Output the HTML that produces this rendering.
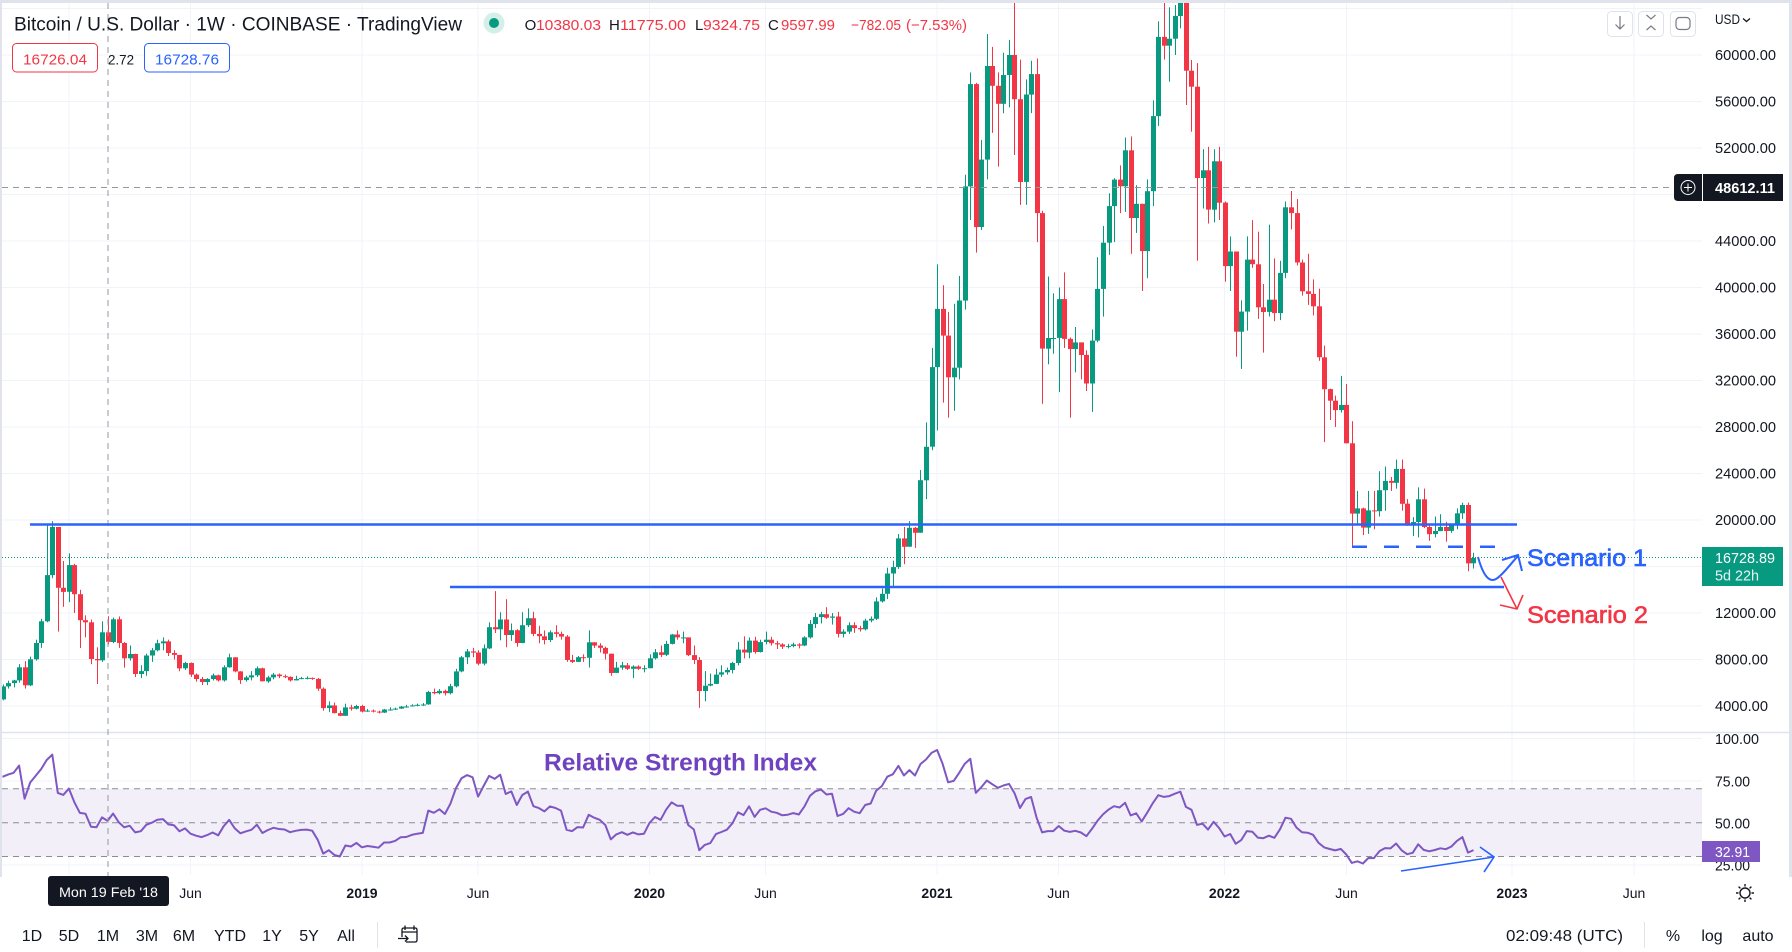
<!DOCTYPE html>
<html><head><meta charset="utf-8"><style>
html,body{margin:0;padding:0;background:#fff;overflow:hidden;}
svg{display:block;}
text{font-family:"Liberation Sans",sans-serif;}
</style></head><body>
<svg width="1792" height="952" viewBox="0 0 1792 952" xmlns="http://www.w3.org/2000/svg">
<defs>
<clipPath id="mc"><rect x="2" y="3" width="1700" height="729"/></clipPath>
<clipPath id="rc"><rect x="2" y="733" width="1700" height="142"/></clipPath>
</defs>
<rect width="1792" height="952" fill="#fff"/>
<!-- grid -->
<g stroke="#f0f3fa" stroke-width="1">
<line x1="2" x2="1702" y1="8.5" y2="8.5"/><line x1="2" x2="1702" y1="55" y2="55"/><line x1="2" x2="1702" y1="101.5" y2="101.5"/><line x1="2" x2="1702" y1="148" y2="148"/><line x1="2" x2="1702" y1="194.5" y2="194.5"/><line x1="2" x2="1702" y1="241" y2="241"/><line x1="2" x2="1702" y1="287.5" y2="287.5"/><line x1="2" x2="1702" y1="334" y2="334"/><line x1="2" x2="1702" y1="380.5" y2="380.5"/><line x1="2" x2="1702" y1="427" y2="427"/><line x1="2" x2="1702" y1="473.5" y2="473.5"/><line x1="2" x2="1702" y1="520" y2="520"/><line x1="2" x2="1702" y1="566.5" y2="566.5"/><line x1="2" x2="1702" y1="613" y2="613"/><line x1="2" x2="1702" y1="659.5" y2="659.5"/><line x1="2" x2="1702" y1="706" y2="706"/>
<line x1="2" x2="1702" y1="738.5" y2="738.5"/><line x1="2" x2="1702" y1="781" y2="781"/><line x1="2" x2="1702" y1="865" y2="865"/>
<line x1="69" x2="69" y1="3" y2="875"/><line x1="190.5" x2="190.5" y1="3" y2="875"/><line x1="362" x2="362" y1="3" y2="875"/><line x1="478" x2="478" y1="3" y2="875"/><line x1="649.5" x2="649.5" y1="3" y2="875"/><line x1="765.5" x2="765.5" y1="3" y2="875"/><line x1="937" x2="937" y1="3" y2="875"/><line x1="1058.5" x2="1058.5" y1="3" y2="875"/><line x1="1224.5" x2="1224.5" y1="3" y2="875"/><line x1="1346.5" x2="1346.5" y1="3" y2="875"/><line x1="1512" x2="1512" y1="3" y2="875"/><line x1="1634" x2="1634" y1="3" y2="875"/>
</g>
<!-- RSI band -->
<rect x="2" y="788.8" width="1700" height="67.7" fill="#f2eff9"/>
<g stroke="#8a8d96" stroke-width="1" stroke-dasharray="6 5">
<line x1="2" x2="1702" y1="788.8" y2="788.8"/><line x1="2" x2="1702" y1="822.7" y2="822.7"/><line x1="2" x2="1702" y1="856.5" y2="856.5"/>
</g>
<!-- pane separator -->
<line x1="0" x2="1792" y1="732.5" y2="732.5" stroke="#e0e3eb" stroke-width="1.5"/>
<!-- frame -->
<rect x="0" y="0" width="1792" height="3" fill="#e0e3eb"/>
<rect x="0" y="0" width="2" height="877" fill="#e0e3eb"/>
<rect x="1789" y="0" width="3" height="877" fill="#e0e3eb"/>

<!-- current price dotted -->
<line x1="2" x2="1702" y1="557.5" y2="557.5" stroke="#089981" stroke-width="1" stroke-dasharray="1 2"/>

<g id="candles" clip-path="url(#mc)"></g>
<g clip-path="url(#rc)"><polyline id="rsi" fill="none" stroke="#7e57c2" stroke-width="2" stroke-linejoin="round" points=""/></g>

<!-- crosshair -->
<line x1="2" x2="1674" y1="187.5" y2="187.5" stroke="#9598a1" stroke-width="1" stroke-dasharray="6 5"/>
<line x1="108" x2="108" y1="3" y2="876" stroke="#9598a1" stroke-width="1" stroke-dasharray="6 5"/>

<!-- drawings -->
<line x1="30" x2="1517" y1="524.5" y2="524.5" stroke="#2962ff" stroke-width="2.5"/>
<line x1="450" x2="1504" y1="587" y2="587" stroke="#2962ff" stroke-width="2.5"/>
<line x1="1352" x2="1498" y1="546.7" y2="546.7" stroke="#2962ff" stroke-width="2.5" stroke-dasharray="15 17"/>
<path d="M1478 557 C1483 575 1489 583 1496 579 S1512 562 1518 556" fill="none" stroke="#2962ff" stroke-width="2"/>
<path d="M1502 560 L1518 555 L1522 571" fill="none" stroke="#2962ff" stroke-width="2"/>
<path d="M1501 577 L1517 609" fill="none" stroke="#f23645" stroke-width="1.6"/>
<path d="M1500 605 L1517 609 L1523 595" fill="none" stroke="#f23645" stroke-width="1.6"/>
<text x="1527" y="566" font-size="24" fill="#2962ff" stroke="#2962ff" stroke-width="0.6" textLength="120" lengthAdjust="spacingAndGlyphs">Scenario 1</text>
<text x="1527" y="623" font-size="24" fill="#f23645" stroke="#f23645" stroke-width="0.6" textLength="121" lengthAdjust="spacingAndGlyphs">Scenario 2</text>
<path d="M1401 871 L1494 857" fill="none" stroke="#2962ff" stroke-width="1.6"/>
<path d="M1480 847 L1494 857 L1484 872" fill="none" stroke="#2962ff" stroke-width="1.6"/>
<text x="544" y="770.5" font-size="24" font-weight="bold" fill="#6f43bf" textLength="273" lengthAdjust="spacingAndGlyphs">Relative Strength Index</text>

<!-- legend -->
<text x="14" y="30.7" font-size="19" fill="#131722" textLength="448" lengthAdjust="spacingAndGlyphs">Bitcoin / U.S. Dollar · 1W · COINBASE · TradingView</text>
<circle cx="494" cy="23" r="10.5" fill="#d5efe8"/>
<circle cx="494" cy="23" r="5" fill="#089981"/>
<g font-size="15">
<text x="524.6" y="30" fill="#131722">O</text>
<text x="536" y="30" fill="#f23645" textLength="65" lengthAdjust="spacingAndGlyphs">10380.03</text>
<text x="609" y="30" fill="#131722">H</text>
<text x="620" y="30" fill="#f23645" textLength="66" lengthAdjust="spacingAndGlyphs">11775.00</text>
<text x="695" y="30" fill="#131722">L</text>
<text x="703" y="30" fill="#f23645" textLength="57" lengthAdjust="spacingAndGlyphs">9324.75</text>
<text x="768" y="30" fill="#131722">C</text>
<text x="781" y="30" fill="#f23645" textLength="54" lengthAdjust="spacingAndGlyphs">9597.99</text>
<text x="851" y="30" fill="#f23645" textLength="50" lengthAdjust="spacingAndGlyphs">−782.05</text>
<text x="906" y="30" fill="#f23645" textLength="61" lengthAdjust="spacingAndGlyphs">(−7.53%)</text>
</g>
<rect x="12.5" y="43.5" width="85" height="28.5" rx="4" fill="#fff" stroke="#f23645" stroke-width="1"/>
<text x="23" y="64.5" font-size="15" fill="#f23645" textLength="64" lengthAdjust="spacingAndGlyphs">16726.04</text>
<text x="108" y="64.5" font-size="14" fill="#131722" textLength="26" lengthAdjust="spacingAndGlyphs">2.72</text>
<rect x="144.5" y="43.5" width="85" height="28.5" rx="4" fill="#fff" stroke="#2962ff" stroke-width="1"/>
<text x="155" y="64.5" font-size="15" fill="#2962ff" textLength="64" lengthAdjust="spacingAndGlyphs">16728.76</text>

<!-- top right buttons -->
<g fill="#fff" stroke="#e0e3eb" stroke-width="1">
<rect x="1607.5" y="11.5" width="25" height="25" rx="4"/>
<rect x="1638.5" y="11.5" width="25" height="25" rx="4"/>
<rect x="1670.5" y="11.5" width="25" height="25" rx="4"/>
</g>
<g fill="none" stroke="#787b86" stroke-width="1.2">
<path d="M1620 16 V29 M1615.5 24.5 L1620 29 L1624.5 24.5"/>
<path d="M1646.5 15 L1651 19 L1655.5 15 M1646.5 30 L1651 26 L1655.5 30"/>
<rect x="1676" y="17.5" width="14" height="12" rx="3.5"/>
</g>
<text x="1715" y="24" font-size="14" fill="#131722" textLength="25" lengthAdjust="spacingAndGlyphs">USD</text>
<path d="M1743 18.5 L1746.5 21.5 L1750 18.5" fill="none" stroke="#131722" stroke-width="1.3"/>

<!-- price axis -->
<g font-size="15" fill="#131722">
<text x="1715" y="60" textLength="61" lengthAdjust="spacingAndGlyphs">60000.00</text>
<text x="1715" y="106.5" textLength="61" lengthAdjust="spacingAndGlyphs">56000.00</text>
<text x="1715" y="153" textLength="61" lengthAdjust="spacingAndGlyphs">52000.00</text>
<text x="1715" y="246" textLength="61" lengthAdjust="spacingAndGlyphs">44000.00</text>
<text x="1715" y="292.5" textLength="61" lengthAdjust="spacingAndGlyphs">40000.00</text>
<text x="1715" y="339" textLength="61" lengthAdjust="spacingAndGlyphs">36000.00</text>
<text x="1715" y="385.5" textLength="61" lengthAdjust="spacingAndGlyphs">32000.00</text>
<text x="1715" y="432" textLength="61" lengthAdjust="spacingAndGlyphs">28000.00</text>
<text x="1715" y="478.5" textLength="61" lengthAdjust="spacingAndGlyphs">24000.00</text>
<text x="1715" y="525" textLength="61" lengthAdjust="spacingAndGlyphs">20000.00</text>
<text x="1715" y="618" textLength="61" lengthAdjust="spacingAndGlyphs">12000.00</text>
<text x="1715" y="664.5" textLength="53" lengthAdjust="spacingAndGlyphs">8000.00</text>
<text x="1715" y="711" textLength="53" lengthAdjust="spacingAndGlyphs">4000.00</text>
<text x="1715" y="744" textLength="44" lengthAdjust="spacingAndGlyphs">100.00</text>
<text x="1715" y="786.5" textLength="35" lengthAdjust="spacingAndGlyphs">75.00</text>
<text x="1715" y="828.5" textLength="35" lengthAdjust="spacingAndGlyphs">50.00</text>
<text x="1715" y="870.5" textLength="35" lengthAdjust="spacingAndGlyphs">25.00</text>
</g>
<!-- crosshair price label -->
<path d="M1678 174 H1702 V201 H1678 Q1674 201 1674 197 V178 Q1674 174 1678 174 Z" fill="#131722"/>
<circle cx="1688" cy="187.5" r="7" fill="none" stroke="#fff" stroke-width="1"/>
<path d="M1684 187.5 H1692 M1688 183.5 V191.5" stroke="#fff" stroke-width="1"/>
<rect x="1702" y="174" width="81" height="27" fill="#131722"/>
<line x1="1702.5" x2="1702.5" y1="174" y2="201" stroke="#fff" stroke-width="1"/>
<text x="1715" y="193" font-size="15" font-weight="bold" fill="#fff" textLength="60" lengthAdjust="spacingAndGlyphs">48612.11</text>
<!-- current price label -->
<rect x="1702" y="547" width="81" height="39" fill="#089981"/>
<text x="1715" y="563" font-size="15" fill="#fff" textLength="60" lengthAdjust="spacingAndGlyphs">16728.89</text>
<text x="1715" y="580.5" font-size="15" fill="#e6f5f2" textLength="44" lengthAdjust="spacingAndGlyphs">5d 22h</text>
<!-- RSI label -->
<rect x="1702" y="841" width="58" height="21" fill="#7e57c2"/>
<text x="1715" y="857" font-size="15" fill="#fff" textLength="35" lengthAdjust="spacingAndGlyphs">32.91</text>

<!-- time axis -->
<g font-size="14" fill="#131722" text-anchor="middle">
<text x="190.5" y="898">Jun</text>
<text x="362" y="898" font-weight="bold">2019</text>
<text x="478" y="898">Jun</text>
<text x="649.5" y="898" font-weight="bold">2020</text>
<text x="765.5" y="898">Jun</text>
<text x="937" y="898" font-weight="bold">2021</text>
<text x="1058.5" y="898">Jun</text>
<text x="1224.5" y="898" font-weight="bold">2022</text>
<text x="1346.5" y="898">Jun</text>
<text x="1512" y="898" font-weight="bold">2023</text>
<text x="1634" y="898">Jun</text>
</g>
<rect x="48" y="876" width="121" height="30" rx="3" fill="#131722"/>
<text x="59" y="897" font-size="14" fill="#fff" textLength="99" lengthAdjust="spacingAndGlyphs">Mon 19 Feb '18</text>
<!-- gear -->
<g stroke="#131722" stroke-width="1.4" fill="none">
<circle cx="1745" cy="893" r="5"/>
<path d="M1751.5 893 H1754 M1749.6 897.6 L1751.4 899.4 M1745 899.5 V902 M1740.4 897.6 L1738.6 899.4 M1738.5 893 H1736 M1740.4 888.4 L1738.6 886.6 M1745 886.5 V884 M1749.6 888.4 L1751.4 886.6"/>
</g>

<!-- bottom toolbar -->
<g font-size="16" fill="#131722" text-anchor="middle">
<text x="32" y="941">1D</text>
<text x="69" y="941">5D</text>
<text x="108" y="941">1M</text>
<text x="147" y="941">3M</text>
<text x="184" y="941">6M</text>
<text x="230" y="941">YTD</text>
<text x="272" y="941">1Y</text>
<text x="309" y="941">5Y</text>
<text x="346" y="941">All</text>
<text x="1673" y="941">%</text>
<text x="1712" y="941">log</text>
<text x="1758" y="941">auto</text>
</g>
<line x1="377.5" x2="377.5" y1="922" y2="948" stroke="#e0e3eb" stroke-width="1"/>
<line x1="1644.5" x2="1644.5" y1="922" y2="948" stroke="#e0e3eb" stroke-width="1"/>
<g fill="none" stroke="#131722" stroke-width="1.3">
<path d="M402 937 V930 Q402 928 404 928 H415 Q417 928 417 930 V940 Q417 942 415 942 H406"/>
<path d="M402 932 H417 M405 925.5 V930 M414 925.5 V930"/>
<path d="M398 938.5 H408 M405 935.5 L408 938.5 L405 941.5"/>
</g>
<text x="1506" y="941" font-size="16" fill="#131722" textLength="117" lengthAdjust="spacingAndGlyphs">02:09:48 (UTC)</text>
</svg>
<script>
(function(){
var D=[
[5690,5850,4500],[5970,6180,5500],[6200,6250,5600],[7330,7600,6000],[5780,7850,5500],[8020,8250,5700],[9420,9700,7900],[11290,11500,9000],[15260,19650,11200],[19400,19900,15000],
[14170,19400,10400],[13820,16470,12530],[16120,17130,12930],[13620,16230,12000],[11380,14000,8990],[11200,11800,9900],[8040,11430,7590],[7930,9050,5890],[10340,11290,7800],[9510,11720,9300],
[11460,11600,9400],[9420,11700,9000],[8100,9500,7300],[8470,9200,7900],[6750,8500,6500],[7000,7500,6400],[8340,8500,6600],[8790,9000,7800],[9400,9700,8700],[9560,9900,8800],
[8560,9700,8300],[8400,8800,8000],[7240,8400,7000],[7700,7800,7100],[6700,7750,6500],[6320,6800,6100],[6060,6500,5800],[6320,6400,5800],[6640,6800,6200],[6200,6700,6100],
[7330,7500,6100],[8190,8500,7300],[6980,8200,6900],[6230,7000,5900],[6460,6600,6100],[6640,7000,6200],[7240,7400,6500],[6120,7300,6100],[6460,6600,6000],[6700,6850,6300],
[6560,6800,6400],[6500,6700,6400],[6200,6550,6100],[6320,6600,6200],[6400,6500,6300],[6420,6550,6300],[6330,6450,6250],[5490,6400,5300],[3820,5600,3600],[4050,4400,3500],
[3390,4300,3350],[3160,3600,3120],[3880,4200,3150],[3770,4100,3600],[4000,4100,3700],[3520,4100,3450],[3600,3750,3500],[3520,3700,3450],[3430,3600,3350],[3700,3750,3400],
[3700,3900,3600],[3780,3850,3650],[3950,4000,3750],[3960,4100,3850],[4050,4150,3950],[4100,4200,3980],[4130,4250,4000],[5200,5300,4100],[5100,5500,5000],[5300,5450,5000],
[5100,5400,4900],[5700,5900,5000],[6980,7200,5600],[8190,8300,6900],[8700,8900,7600],[8600,9000,8200],[7640,8800,7500],[8960,9300,7500],[10780,11200,8900],[10600,13880,10280],
[11440,12070,9650],[10110,13190,9050],[10520,11100,9600],[9420,10600,9100],[10950,12070,9400],[11550,12400,10800],[10200,12100,10000],[10000,10900,9400],[9680,10500,9300],[10340,10500,9500],
[10200,10950,9900],[9970,10400,9700],[7960,10100,7800],[7800,8400,7700],[8200,8300,7850],[8150,8450,7800],[9480,10500,7300],[9200,9500,9000],[9000,9400,8600],[8500,9100,8000],
[6840,8500,6600],[7300,7800,6900],[7500,7800,7100],[7200,7700,7100],[7400,7500,6400],[7200,7500,7100],[7250,7500,6900],[8100,8450,7250],[8620,8900,8000],[8400,9200,8200],
[9340,9600,8300],[10150,10200,9300],[9900,10500,9700],[9900,10400,9400],[8380,9900,8300],[7960,9200,7600],[5290,8200,3850],[5750,7000,4400],[5900,6800,5700],[6700,7200,5900],
[6900,7500,6500],[7100,7300,6700],[7700,7800,6800],[8850,9500,7500],[8600,10000,8100],[9630,9900,8100],[8650,9950,8500],[9500,9700,8600],[9700,10400,9300],[9400,9950,9200],
[9300,9600,8900],[9100,9400,8900],[9150,9350,8950],[9300,9450,9050],[9200,9400,8950],[9900,10000,9150],[11060,11400,9800],[11650,12000,10700],[11900,12100,11100],[11600,12500,11500],
[11700,12000,11000],[10200,12100,9900],[10400,10600,9900],[10950,11200,10200],[10700,11200,10300],[10600,10900,10400],[11350,11500,10500],[11500,11700,11200],[13000,13350,11400],[13650,14100,12900],
[15400,15900,13200],[15950,16500,14300],[18420,18800,15800],[17700,19400,16200],[19330,19900,18000],[18900,19400,17600],[23420,24300,19000],[26300,28400,21800],[33150,34800,26000],[38160,42000,27700],
[35860,40200,30100],[32270,37900,28800],[33100,38600,29400],[38880,41000,32100],[48700,49700,38100],[57500,58500,45800],[45200,57600,43000],[51000,52700,44950],[59050,61800,49300],[57350,60700,53300],
[55800,58500,50400],[58280,60200,55000],[60000,61300,55500],[56200,64800,51400],[49080,59600,47100],[56600,57900,47100],[58360,59500,55000],[46400,59700,43900],[34740,46600,30000],[35660,40950,33400],
[35660,39500,34300],[39000,40000,31000],[35580,41300,34800],[34700,35700,28800],[35280,36600,32700],[34200,35100,32100],[31740,34600,31100],[35430,36400,29300],[39880,42600,35300],[43850,45300,37500],
[47000,48100,42800],[49280,49400,43900],[48700,50500,46400],[51800,52900,46500],[45980,53000,42900],[47200,48800,44700],[43130,47200,39700],[48280,49300,40800],[54740,56100,47000],[61560,62900,53900],
[60800,67000,59600],[61400,64100,57700],[63360,64300,60000],[65000,69000,62300],[58650,66300,55700],[57270,59570,53400],[49420,59300,42300],[50080,51900,46800],[46700,52100,45500],[50860,51900,45600],
[47300,52100,45800],[41840,47400,40500],[43100,44400,39700],[36200,43100,34050],[37930,38900,33000],[42400,44400,36300],[42000,45800,41700],[38300,44800,37300],[37900,40300,34400],[38950,45400,37500],
[37800,42500,37100],[41260,42300,37200],[46900,47400,40800],[46400,48300,45000],[42150,47600,41900],[39670,42400,39300],[39450,42900,38500],[38380,40700,37600],[34000,39900,33700],[31260,35000,26700],
[30260,31300,28600],[29450,30700,28000],[29900,32400,29250],[26600,31700,26600],[20550,28500,17600],[21000,22500,19700],[19350,21060,18700],[20830,22500,18800],[20750,22500,19200],[22560,24200,20300],
[23360,24600,20800],[23200,23700,22500],[24400,25200,22700],[21400,25200,20800],[19520,21800,19500],[19830,20250,18620],[21780,22800,18500],[19400,22700,19300],[18780,19700,18200],[19050,20300,18500],
[19400,20500,19100],[19060,19850,18130],[19560,19700,18900],[20580,21000,19200],[21290,21490,20100],[16270,21500,15600],[16730,17180,15830]
];
var W=[960,910,820,920,920,1020,1000,1050,1180,1270,1230,1040,960,1090,1190,1180,1250,1350,1600,1770,2050,2200,2540,2950,2520,2600,2500,2520,1990,2760,2750,3240,4050,4090,4350,4600,4200,3690,3650,4360,4570];
var s=5.53,x0=2.5;
function py(p){return 752.5-p*0.011625;}
var h='',prev=4570;
for(var j=0;j<D.length;j++){
 var c=D[j][0],hi=D[j][1],lo=D[j][2],o=prev;prev=c;
 var xr=Math.round(x0+s*j);
 var col=c>=o?'#089981':'#f23645';
 var hh=Math.max(hi,o,c),ll=Math.min(lo,o,c);
 var yt=py(Math.max(o,c)),yb=py(Math.min(o,c));
 var y1=py(hh),y2=py(ll);
 h+='<rect x="'+xr+'" y="'+y1.toFixed(1)+'" width="1" height="'+(y2-y1).toFixed(1)+'" fill="'+col+'"/>';
 var bh=Math.max(1,yb-yt);
 h+='<rect x="'+(xr-2)+'" y="'+yt.toFixed(1)+'" width="5" height="'+bh.toFixed(1)+'" fill="'+col+'"/>';
}
document.getElementById('candles').innerHTML=h;
var A=W.concat(D.map(function(d){return d[0];}));
var n=14,ag=0,al=0,pts=[];
for(var i=1;i<A.length;i++){
 var ch=A[i]-A[i-1],g=ch>0?ch:0,l=ch<0?-ch:0;
 if(i<=n){ag+=g/n;al+=l/n;}else{ag=(ag*(n-1)+g)/n;al=(al*(n-1)+l)/n;}
 var jj=i-W.length;
 if(i>=n&&jj>=0){
  var r=al===0?100:100-100/(1+ag/al);
  pts.push((x0+s*jj).toFixed(1)+','+(865-(r-25)*1.693).toFixed(1));
 }
}
document.getElementById('rsi').setAttribute('points',pts.join(' '));
})();
</script>
</body></html>
